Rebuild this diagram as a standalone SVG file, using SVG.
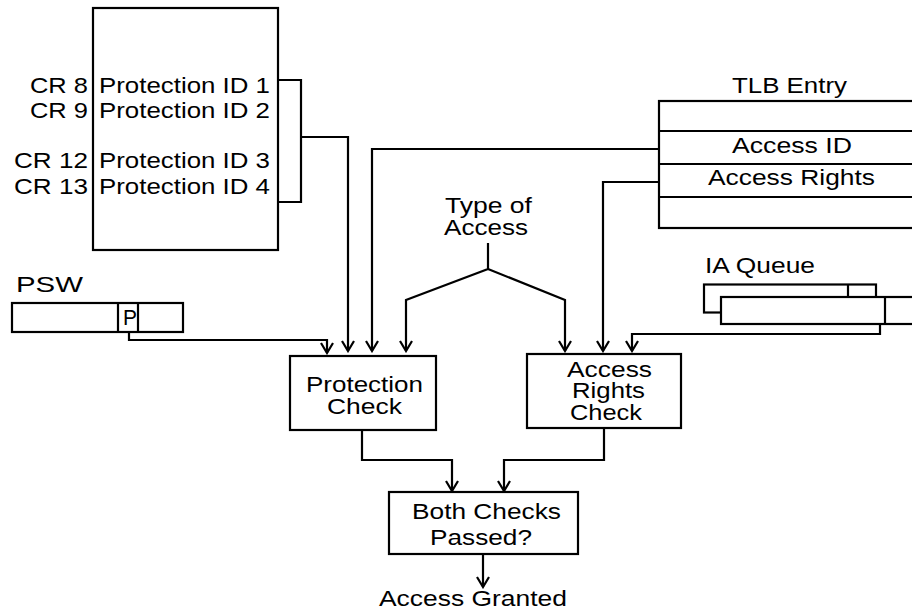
<svg xmlns="http://www.w3.org/2000/svg" width="912" height="612" viewBox="0 0 912 612">
<style>
.b{fill:#fff;stroke:#000;stroke-width:2.2}
.l{fill:none;stroke:#000;stroke-width:2.2}
.c{fill:none;stroke:#000;stroke-width:2.2}
text{font-family:"Liberation Sans",Arial,sans-serif;font-size:22px;fill:#000}
</style>
<defs>
<marker id="ah" viewBox="-12 -8 14 16" refX="0" refY="0" markerWidth="14" markerHeight="16" markerUnits="userSpaceOnUse" orient="auto">
<path d="M-10,-6 L0,0 L-10,6" fill="none" stroke="#000" stroke-width="2.2"/>
</marker>
</defs>
<rect width="912" height="612" fill="#fff"/>
<g id="control-registers">
<rect class="b" x="93" y="8" width="185" height="242"/>
<text transform="scale(1.17,1)" x="25.64" y="93" textLength="49.57" lengthAdjust="spacingAndGlyphs">CR 8</text>
<text transform="scale(1.17,1)" x="25.64" y="118" textLength="49.57" lengthAdjust="spacingAndGlyphs">CR 9</text>
<text transform="scale(1.17,1)" x="11.97" y="168" textLength="63.25" lengthAdjust="spacingAndGlyphs">CR 12</text>
<text transform="scale(1.17,1)" x="11.97" y="194" textLength="63.25" lengthAdjust="spacingAndGlyphs">CR 13</text>
<text transform="scale(1.17,1)" x="84.62" y="93" textLength="146.15" lengthAdjust="spacingAndGlyphs">Protection ID 1</text>
<text transform="scale(1.17,1)" x="84.62" y="118" textLength="146.15" lengthAdjust="spacingAndGlyphs">Protection ID 2</text>
<text transform="scale(1.17,1)" x="84.62" y="168" textLength="146.15" lengthAdjust="spacingAndGlyphs">Protection ID 3</text>
<text transform="scale(1.17,1)" x="84.62" y="194" textLength="146.15" lengthAdjust="spacingAndGlyphs">Protection ID 4</text>
</g>
<g id="tlb-entry">
<text transform="scale(1.17,1)" x="625.64" y="93" textLength="98.29" lengthAdjust="spacingAndGlyphs">TLB Entry</text>
<rect class="b" x="659" y="101" width="270" height="127"/>
<path class="l" d="M659,131 H912 M659,164 H912 M659,197 H912"/>
<text transform="scale(1.17,1)" x="625.64" y="153" textLength="102.56" lengthAdjust="spacingAndGlyphs">Access ID</text>
<text transform="scale(1.17,1)" x="605.13" y="185" textLength="142.74" lengthAdjust="spacingAndGlyphs">Access Rights</text>
</g>
<g id="ia-queue">
<text transform="scale(1.17,1)" x="602.56" y="273" textLength="94.02" lengthAdjust="spacingAndGlyphs">IA Queue</text>
<rect class="b" x="704" y="284.5" width="172" height="28"/>
<path class="l" d="M848,284.5 V297"/>
<rect class="b" x="721" y="297" width="200" height="27"/>
<path class="l" d="M885,297 V324"/>
</g>
<g id="psw">
<text transform="scale(1.17,1)" x="13.68" y="292" textLength="57.26" lengthAdjust="spacingAndGlyphs">PSW</text>
<rect class="b" x="12" y="303" width="171" height="29"/>
<path class="l" d="M118,303 V332 M138,303 V332"/>
<text transform="scale(1.17,1)" x="105.13" y="325" textLength="11.97" lengthAdjust="spacingAndGlyphs">P</text>
</g>
<g id="type-of-access">
<text transform="scale(1.17,1)" x="380.34" y="213" textLength="74.36" lengthAdjust="spacingAndGlyphs">Type of</text>
<text transform="scale(1.17,1)" x="379.49" y="235" textLength="71.79" lengthAdjust="spacingAndGlyphs">Access</text>
</g>
<g id="protection-check">
<rect class="b" x="290" y="356" width="146" height="74"/>
<text transform="scale(1.17,1)" x="261.54" y="392" textLength="100" lengthAdjust="spacingAndGlyphs">Protection</text>
<text transform="scale(1.17,1)" x="279.49" y="414" textLength="64.1" lengthAdjust="spacingAndGlyphs">Check</text>
</g>
<g id="access-rights-check">
<rect class="b" x="527" y="354" width="154" height="74"/>
<text transform="scale(1.17,1)" x="484.62" y="377" textLength="72.65" lengthAdjust="spacingAndGlyphs">Access</text>
<text transform="scale(1.17,1)" x="488.89" y="398" textLength="62.39" lengthAdjust="spacingAndGlyphs">Rights</text>
<text transform="scale(1.17,1)" x="487.18" y="420" textLength="61.54" lengthAdjust="spacingAndGlyphs">Check</text>
</g>
<g id="both-checks">
<rect class="b" x="389" y="492" width="189" height="62"/>
<text transform="scale(1.17,1)" x="352.14" y="519" textLength="127.35" lengthAdjust="spacingAndGlyphs">Both Checks</text>
<text transform="scale(1.17,1)" x="367.52" y="545" textLength="87.18" lengthAdjust="spacingAndGlyphs">Passed?</text>
</g>
<g id="access-granted">
<text transform="scale(1.17,1)" x="323.93" y="606" textLength="160.68" lengthAdjust="spacingAndGlyphs">Access Granted</text>
</g>
<g id="connectors">
<path class="c" d="M278,80 H301 V202 H278"/>
<path class="c" d="M301,137 H348 V351" marker-end="url(#ah)"/>
<path class="c" d="M659,149 H372 V351" marker-end="url(#ah)"/>
<path class="c" d="M659,182 H603 V351" marker-end="url(#ah)"/>
<path class="c" d="M488,243 V269 L406,300 V351" marker-end="url(#ah)"/>
<path class="c" d="M488,269 L565,300 V351" marker-end="url(#ah)"/>
<path class="c" d="M129,332 V340 H327 V353" marker-end="url(#ah)"/>
<path class="c" d="M880,324 V334 H632 V351" marker-end="url(#ah)"/>
<path class="c" d="M362,430 V460 H452 V491" marker-end="url(#ah)"/>
<path class="c" d="M604,428 V460 H504 V491" marker-end="url(#ah)"/>
<path class="c" d="M483,554 V587" marker-end="url(#ah)"/>
</g>
</svg>
